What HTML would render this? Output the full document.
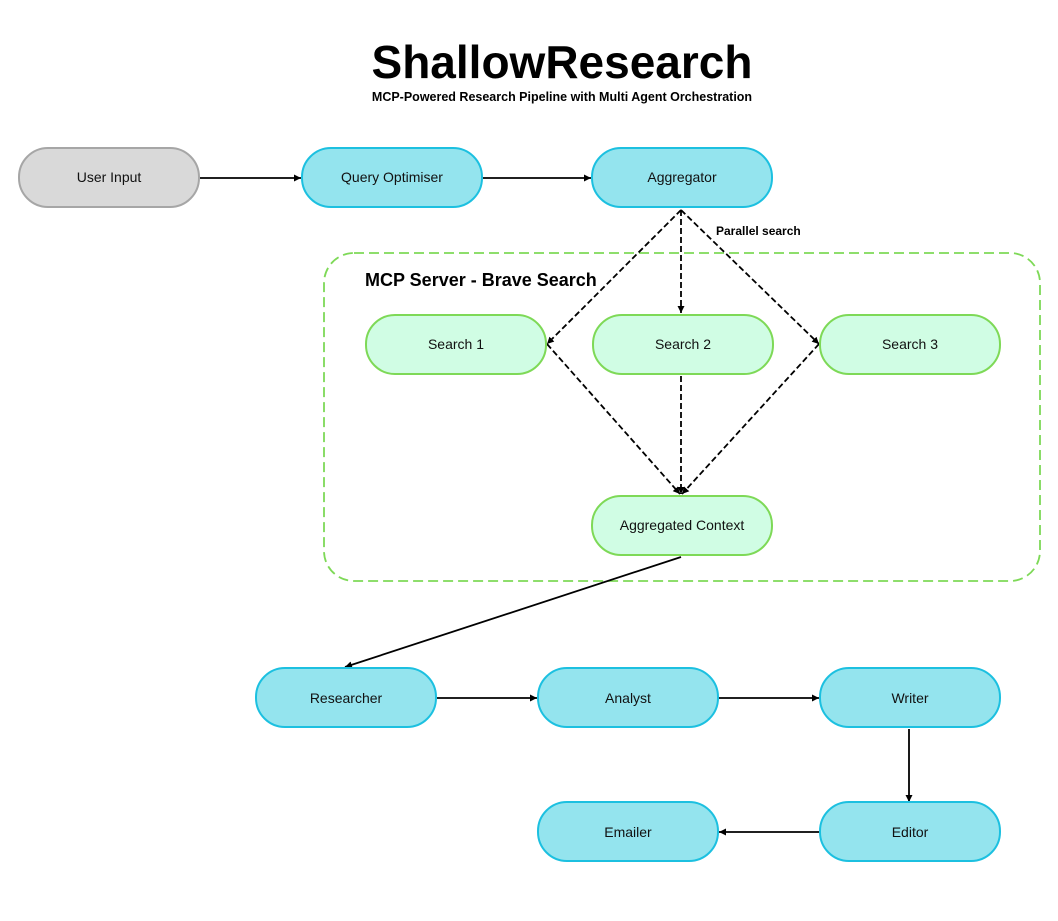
<!DOCTYPE html>
<html><head><meta charset="utf-8"><style>
html,body{margin:0;padding:0;background:#fff;}
svg{display:block;}
text{font-family:"Liberation Sans",sans-serif;}
</style></head><body>
<svg width="1058" height="921" viewBox="0 0 1058 921" xmlns="http://www.w3.org/2000/svg">
<defs>
<marker id="a" markerWidth="8" markerHeight="8" refX="7" refY="4" orient="auto" markerUnits="userSpaceOnUse"><path d="M0,0.5 L7,4 L0,7.5 z" fill="#000"/></marker>
</defs>
<text x="562" y="78" text-anchor="middle" font-size="46" font-weight="bold">ShallowResearch</text>
<text x="562" y="101" text-anchor="middle" font-size="12.5" font-weight="bold">MCP-Powered Research Pipeline with Multi Agent Orchestration</text>

<rect x="324" y="253" width="716" height="328" rx="30" fill="none" stroke="#7ed957" stroke-width="1.8" stroke-dasharray="10,5"/>
<text x="365" y="286" font-size="18" font-weight="bold">MCP Server - Brave Search</text>
<text x="716" y="235" font-size="12" font-weight="bold">Parallel search</text>

<g fill="none" stroke="#000" stroke-width="1.8" stroke-dasharray="6,3">
<line x1="681" y1="210" x2="547" y2="344" marker-end="url(#a)"/>
<line x1="681" y1="210" x2="681" y2="313" marker-end="url(#a)"/>
<line x1="681" y1="210" x2="819" y2="344" marker-end="url(#a)"/>
<line x1="547" y1="344" x2="680" y2="494" marker-end="url(#a)"/>
<line x1="681" y1="376" x2="681" y2="494" marker-end="url(#a)"/>
<line x1="819" y1="344" x2="682" y2="494" marker-end="url(#a)"/>
</g>
<g fill="none" stroke="#000" stroke-width="1.8">
<line x1="200" y1="178" x2="301" y2="178" marker-end="url(#a)"/>
<line x1="483" y1="178" x2="591" y2="178" marker-end="url(#a)"/>
<line x1="681" y1="557" x2="345" y2="667" marker-end="url(#a)"/>
<line x1="437" y1="698" x2="537" y2="698" marker-end="url(#a)"/>
<line x1="719" y1="698" x2="819" y2="698" marker-end="url(#a)"/>
<line x1="909" y1="729" x2="909" y2="802" marker-end="url(#a)"/>
<line x1="820" y1="832" x2="719" y2="832" marker-end="url(#a)"/>
</g>

<g font-size="14" text-anchor="middle" fill="#111">
<rect x="19" y="148" width="180" height="59" rx="29" fill="#d9d9d9" stroke="#a6a6a6" stroke-width="2"/>
<text x="109" y="182">User Input</text>
<g fill="#94e4ee" stroke="#1cc0e0" stroke-width="2">
<rect x="302" y="148" width="180" height="59" rx="29"/>
<rect x="592" y="148" width="180" height="59" rx="29"/>
<rect x="256" y="668" width="180" height="59" rx="29"/>
<rect x="538" y="668" width="180" height="59" rx="29"/>
<rect x="820" y="668" width="180" height="59" rx="29"/>
<rect x="538" y="802" width="180" height="59" rx="29"/>
<rect x="820" y="802" width="180" height="59" rx="29"/>
</g>
<g fill="#d0fde4" stroke="#7ed957" stroke-width="2">
<rect x="366" y="315" width="180" height="59" rx="29"/>
<rect x="593" y="315" width="180" height="59" rx="29"/>
<rect x="820" y="315" width="180" height="59" rx="29"/>
<rect x="592" y="496" width="180" height="59" rx="29"/>
</g>
<text x="392" y="182">Query Optimiser</text>
<text x="682" y="182">Aggregator</text>
<text x="456" y="349">Search 1</text>
<text x="683" y="349">Search 2</text>
<text x="910" y="349">Search 3</text>
<text x="682" y="530">Aggregated Context</text>
<text x="346" y="703">Researcher</text>
<text x="628" y="703">Analyst</text>
<text x="910" y="703">Writer</text>
<text x="628" y="837">Emailer</text>
<text x="910" y="837">Editor</text>
</g>
</svg>
</body></html>
